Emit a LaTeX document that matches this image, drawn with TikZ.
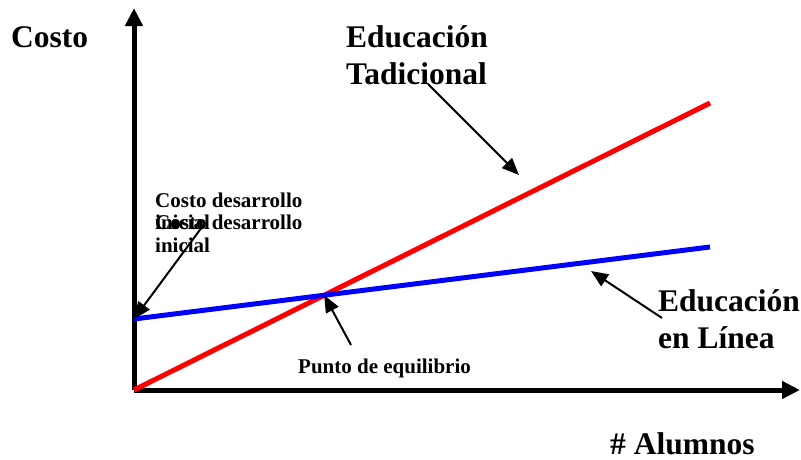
\documentclass[tikz,border=0pt]{standalone}
\usepackage{fontspec}
\setmainfont{Liberation Serif}
\usetikzlibrary{arrows.meta}
\tikzset{
  axis/.style={line width=5pt, -{Triangle[length=18pt,width=17pt]}},
  pointer/.style={line width=2pt, -{Triangle[length=17pt,width=14pt]}},
  biglabel/.style={font=\bfseries\fontsize{31.5}{37}\selectfont, inner sep=0pt, anchor=base west, align=left},
  smalllabel/.style={font=\bfseries\fontsize{21}{22.5}\selectfont, inner sep=0pt, anchor=base west, align=left},
}
\begin{document}
\begin{tikzpicture}[x=1pt,y=-1pt]
            \useasboundingbox (0,0) rectangle (801,459);
            %Axes
            \coordinate (O)at(134,390);
            \coordinate (ytop)at(134,8);
            \coordinate (xend)at(800,390);
            \draw [axis](O)--(ytop);
            \draw [axis](O)--(xend);

            %Cost lines
            \coordinate (trad0)at(134,390);
            \coordinate (trad1)at(710,103);
            \coordinate (lin0)at(134,319);
            \coordinate (lin1)at(710,247);
            \draw [line width=5pt, red](trad0)--(trad1);
            \draw [line width=5pt, blue](lin0)--(lin1);
            \coordinate (equil)at(intersection of trad0--trad1 and lin0--lin1);

            %Labels (multi-line nodes sit on their last baseline)
            \node [biglabel](costo)at(11,47){Costo};
            \node [biglabel](alumnos)at(610,454){\# Alumnos};
            \node [biglabel](trad)at(346,84){Educación\\Tadicional};
            \node [biglabel](linea)at(658,348){Educación\\en Línea};
            \node [smalllabel](punto)at(298,373){Punto de equilibrio};
            \node [smalllabel](desa1)at(155,229.5){Costo desarrollo\\inicial};
            \node [smalllabel](desa2)at(155,252){Costo desarrollo\\inicial};

            %Pointers
            \coordinate (tradfrom)at(428,84);
            \coordinate (tradto)at(519,175);
            \coordinate (linfrom)at(662,318);
            \coordinate (linto)at(591,271);
            \coordinate (desafrom)at(205,223);
            \coordinate (puntofrom)at(351,345);
            \draw [pointer](tradfrom)--(tradto);
            \draw [pointer](linfrom)--(linto);
            \draw [pointer](desafrom)--(lin0);
            \draw [pointer](puntofrom)--(equil);

        \end{tikzpicture}
\end{document}
